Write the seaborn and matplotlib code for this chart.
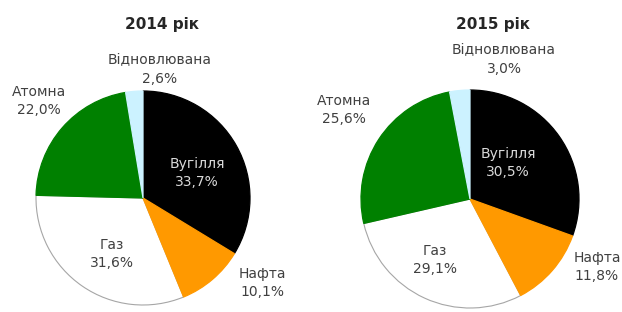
import numpy as np
import matplotlib
matplotlib.use("Agg")
import matplotlib.pyplot as plt
import seaborn as sns

# data
sources = ["Вугілля", "Нафта", "Газ", "Атомна", "Відновлювана"]
share_2014 = [33.7, 10.1, 31.6, 22.0, 2.6]
share_2015 = [30.5, 11.8, 29.1, 25.6, 3.0]
titles = ["2014 рік", "2015 рік"]

colors = ["#000000", "#ff9900", "#ffffff", "#008000", "#ccf2ff"]
text_dark = "#404040"
text_light = "#d9d9d9"

sns.set_theme(style="white")
plt.rcParams["font.family"] = ["DejaVu Sans"]

W, H = 622, 312
fig = plt.figure(figsize=(W / 100, H / 100), dpi=100)
ax = fig.add_axes([0, 0, 1, 1])
ax.set_xlim(0, W)
ax.set_ylim(0, H)
ax.set_aspect("equal")
ax.axis("off")

# layout in image pixels (y measured from the top)
pies = [
    {"values": share_2014, "center": (143, 198), "radius": 107, "title_xy": (162, 25),
     "label_xy": [(197, 173), (262, 283), (112, 254), (39, 101), (160, 70)]},
    {"values": share_2015, "center": (470, 199), "radius": 109, "title_xy": (493, 25),
     "label_xy": [(508, 163), (597, 267), (435, 260), (344, 110), (504, 60)]},
]

for title, p in zip(titles, pies):
    cx, cy = p["center"]
    wedges, _ = ax.pie(p["values"], colors=colors, startangle=90, counterclock=False,
                       center=(cx, H - cy), radius=p["radius"],
                       wedgeprops=dict(linewidth=0))
    # white slice gets a thin grey rim; the coloured slices sit on top
    # with an edge of their own colour so only the outer arc stays grey
    for w, col in zip(wedges, colors):
        if col == "#ffffff":
            w.set_edgecolor("#a6a6a6")
            w.set_linewidth(0.8)
            w.set_zorder(1)
        else:
            w.set_edgecolor(col)
            w.set_linewidth(0.9)
            w.set_zorder(2)
    tx, ty = p["title_xy"]
    ax.text(tx, H - ty, title, ha="center", va="center", fontsize=11,
            fontweight="bold", color="#262626")
    for name, val, (lx, ly), col in zip(sources, p["values"], p["label_xy"], colors):
        tc = text_light if col == "#000000" else text_dark
        label = name + "\n" + f"{val:.1f}".replace(".", ",") + "%"
        ax.text(lx, H - ly, label, ha="center", va="center", fontsize=10,
                color=tc, linespacing=1.45, zorder=3)

ax.set_xlim(0, W)
ax.set_ylim(0, H)
fig.savefig("out.png", dpi=100)
